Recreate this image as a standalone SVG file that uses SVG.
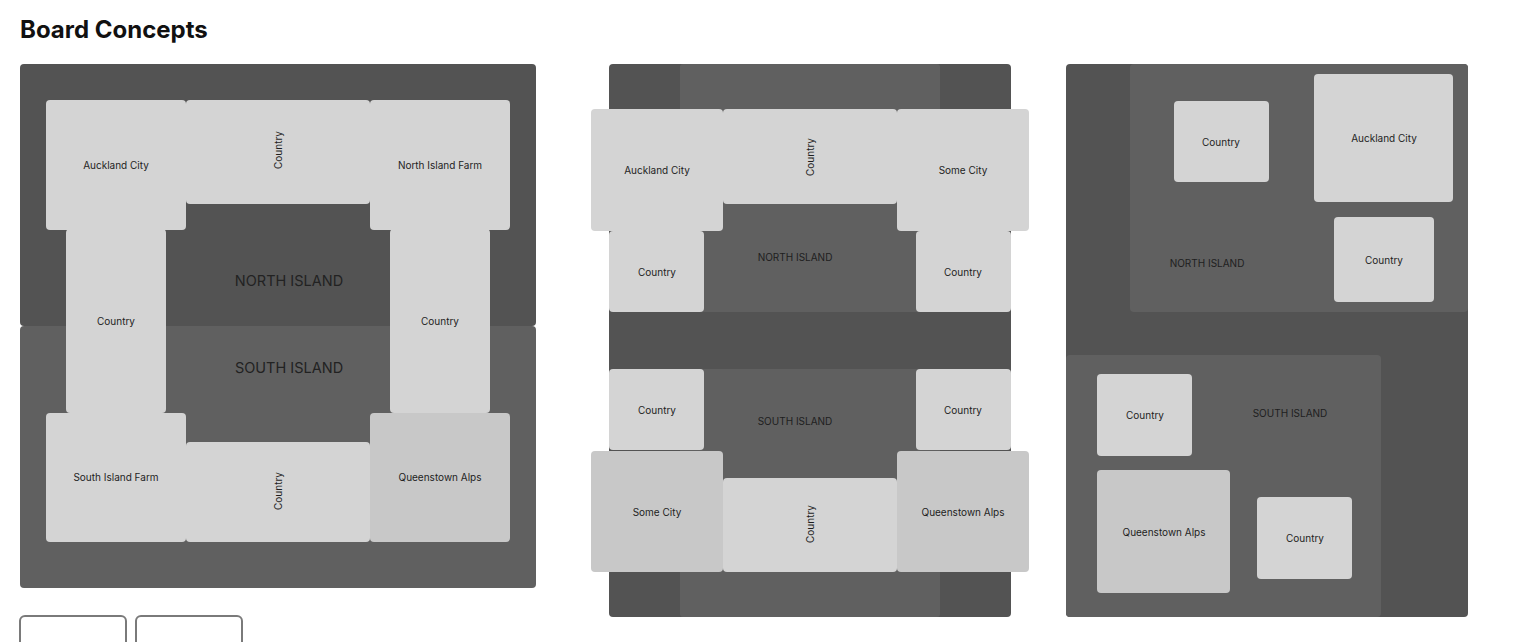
<svg xmlns="http://www.w3.org/2000/svg" width="1515" height="642" viewBox="0 0 1515 642">
<style>
.bg{fill:#ffffff}
.dark{fill:#535353}
.light{fill:#606060}
.tile{fill:#d4d4d4}
.tile2{fill:#c8c8c8}
.lbl{font-family:Inter,"Liberation Sans",sans-serif;font-size:10px;fill:#1e1e1e;text-anchor:middle;dominant-baseline:central}
.isl{font-family:Inter,"Liberation Sans",sans-serif;font-size:10px;fill:#1e1e1e;text-anchor:middle;dominant-baseline:central}
.isl-big{font-family:Inter,"Liberation Sans",sans-serif;font-size:14.5px;fill:#222222;text-anchor:middle;dominant-baseline:central}
.title{font-family:Inter,"Liberation Sans",sans-serif;font-size:24px;font-weight:700;fill:#111111}
.btn{fill:#ffffff;stroke:#7a7a7a;stroke-width:2}
</style>
<rect class="bg" x="0" y="0" width="1515" height="642"/>
<text class="title" x="20" y="38">Board Concepts</text>

<!-- Board 1 -->
<g id="board1">
  <rect class="dark" x="20" y="64" width="516" height="262" rx="4"/>
  <rect class="light" x="20" y="326" width="516" height="262" rx="4"/>
  <text class="isl-big" x="289" y="280">NORTH ISLAND</text>
  <text class="isl-big" x="289" y="367">SOUTH ISLAND</text>
</g>
<g id="b1-auckland"><rect class="tile" x="46" y="100" width="140" height="130" rx="4"/><text class="lbl" x="116" y="165">Auckland City</text></g>
<g id="b1-country-top"><rect class="tile" x="186" y="100" width="184" height="104" rx="4"/><text class="lbl" transform="translate(278,150) rotate(-90)">Country</text></g>
<g id="b1-nifarm"><rect class="tile" x="370" y="100" width="140" height="130" rx="4"/><text class="lbl" x="440" y="165">North Island Farm</text></g>
<g id="b1-country-left"><rect class="tile" x="66" y="229" width="100" height="184" rx="4"/><text class="lbl" x="116" y="321">Country</text></g>
<g id="b1-country-right"><rect class="tile" x="390" y="229" width="100" height="184" rx="4"/><text class="lbl" x="440" y="321">Country</text></g>
<g id="b1-sifarm"><rect class="tile" x="46" y="413" width="140" height="129" rx="4"/><text class="lbl" x="116" y="477">South Island Farm</text></g>
<g id="b1-country-bottom"><rect class="tile" x="186" y="442" width="184" height="100" rx="4"/><text class="lbl" transform="translate(278,491) rotate(-90)">Country</text></g>
<g id="b1-queenstown"><rect class="tile2" x="370" y="413" width="140" height="129" rx="4"/><text class="lbl" x="440" y="477">Queenstown Alps</text></g>

<!-- Board 2 -->
<g id="board2">
  <rect class="dark" x="609" y="64" width="402" height="553" rx="4"/>
  <rect class="light" x="680" y="64" width="260" height="248" rx="3"/>
  <rect class="light" x="680" y="369" width="260" height="248" rx="3"/>
  <text class="isl" x="795" y="257">NORTH ISLAND</text>
  <text class="isl" x="795" y="421">SOUTH ISLAND</text>
</g>
<g id="b2-auckland"><rect class="tile" x="591" y="109" width="132" height="122" rx="4"/><text class="lbl" x="657" y="170">Auckland City</text></g>
<g id="b2-country-top"><rect class="tile" x="723" y="109" width="174" height="95" rx="4"/><text class="lbl" transform="translate(810,157) rotate(-90)">Country</text></g>
<g id="b2-somecity-top"><rect class="tile" x="897" y="109" width="132" height="122" rx="4"/><text class="lbl" x="963" y="170">Some City</text></g>
<g id="b2-country-l1"><rect class="tile" x="609" y="231" width="95" height="81" rx="4"/><text class="lbl" x="657" y="272">Country</text></g>
<g id="b2-country-r1"><rect class="tile" x="916" y="231" width="95" height="81" rx="4"/><text class="lbl" x="963" y="272">Country</text></g>
<g id="b2-country-l2"><rect class="tile" x="609" y="369" width="95" height="81" rx="4"/><text class="lbl" x="657" y="410">Country</text></g>
<g id="b2-country-r2"><rect class="tile" x="916" y="369" width="95" height="81" rx="4"/><text class="lbl" x="963" y="410">Country</text></g>
<g id="b2-somecity-bottom"><rect class="tile2" x="591" y="451" width="132" height="121" rx="4"/><text class="lbl" x="657" y="512">Some City</text></g>
<g id="b2-country-bottom"><rect class="tile" x="723" y="478" width="174" height="94" rx="4"/><text class="lbl" transform="translate(810,524) rotate(-90)">Country</text></g>
<g id="b2-queenstown"><rect class="tile2" x="897" y="451" width="132" height="121" rx="4"/><text class="lbl" x="963" y="512">Queenstown Alps</text></g>

<!-- Board 3 -->
<g id="board3">
  <rect class="dark" x="1066" y="64" width="402" height="553" rx="4"/>
  <rect class="light" x="1130" y="64" width="338" height="248" rx="4"/>
  <rect class="light" x="1066" y="355" width="315" height="262" rx="4"/>
  <text class="isl" x="1207" y="263">NORTH ISLAND</text>
  <text class="isl" x="1290" y="413">SOUTH ISLAND</text>
</g>
<g id="b3-country-1"><rect class="tile" x="1174" y="101" width="95" height="81" rx="4"/><text class="lbl" x="1221" y="142">Country</text></g>
<g id="b3-auckland"><rect class="tile" x="1314" y="74" width="139" height="128" rx="4"/><text class="lbl" x="1384" y="138">Auckland City</text></g>
<g id="b3-country-2"><rect class="tile" x="1334" y="217" width="100" height="85" rx="4"/><text class="lbl" x="1384" y="260">Country</text></g>
<g id="b3-country-3"><rect class="tile" x="1097" y="374" width="95" height="82" rx="4"/><text class="lbl" x="1145" y="415">Country</text></g>
<g id="b3-queenstown"><rect class="tile2" x="1097" y="470" width="133" height="123" rx="4"/><text class="lbl" x="1164" y="532">Queenstown Alps</text></g>
<g id="b3-country-4"><rect class="tile" x="1257" y="497" width="95" height="82" rx="4"/><text class="lbl" x="1305" y="538">Country</text></g>

<!-- bottom buttons -->
<g id="btn1"><rect class="btn" x="20" y="616" width="106" height="40" rx="5"/></g>
<g id="btn2"><rect class="btn" x="136" y="616" width="106" height="40" rx="5"/></g>
<g id="connectors"></g>
</svg>
